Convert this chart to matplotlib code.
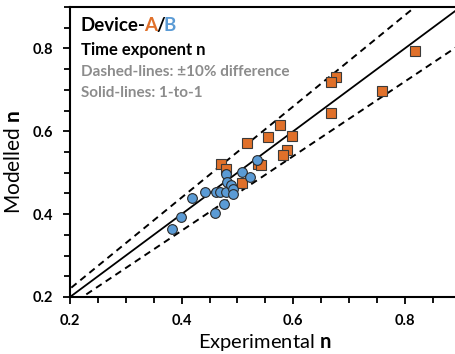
import matplotlib
matplotlib.use("Agg")
import matplotlib.pyplot as plt
from matplotlib.ticker import MultipleLocator

plt.rcParams['font.family'] = ['Lato', 'DejaVu Sans']
plt.rcParams['mathtext.fontset'] = 'custom'
plt.rcParams['mathtext.rm'] = 'Lato'
plt.rcParams['mathtext.bf'] = 'Lato:bold'

# Device A (orange squares): experimental n, modelled n
a_exp = [0.818, 0.676, 0.667, 0.759, 0.667, 0.577, 0.555, 0.598,
         0.518, 0.589, 0.581, 0.470, 0.480, 0.537, 0.543, 0.509]
a_mod = [0.793, 0.731, 0.720, 0.697, 0.644, 0.615, 0.587, 0.589,
         0.571, 0.554, 0.543, 0.521, 0.508, 0.521, 0.519, 0.475]

# Device B (blue circles)
b_exp = [0.382, 0.399, 0.419, 0.442, 0.459, 0.462, 0.469, 0.476, 0.479,
         0.479, 0.482, 0.489, 0.492, 0.492, 0.509, 0.523, 0.536]
b_mod = [0.365, 0.392, 0.440, 0.454, 0.403, 0.454, 0.454, 0.425, 0.453,
         0.496, 0.478, 0.471, 0.461, 0.449, 0.501, 0.490, 0.531]

orange = '#E0702A'
blue = '#5B9BD5'

fig = plt.figure(figsize=(4.56, 3.54), dpi=100)
ax = fig.add_axes([70 / 456, 57 / 354, 390.6 / 456, 290 / 354])

# reference lines: +/-10% and 1-to-1
line_x = [0.0, 1.0]
ax.plot(line_x, [v * 1.1 for v in line_x], color='black', lw=1.4, ls=(0, (3.5, 2.5)), zorder=1)
ax.plot(line_x, [v * 0.9 for v in line_x], color='black', lw=1.4, ls=(0, (3.5, 2.5)), zorder=1)
ax.plot(line_x, line_x, color='black', lw=1.3, zorder=1)

ax.plot(a_exp, a_mod, 's', ms=7, mfc=orange, mec='#3a3a3a', mew=0.8, zorder=3)
ax.plot(b_exp, b_mod, 'o', ms=7, mfc=blue, mec='#2a2a2a', mew=0.8, zorder=4)

ax.set_xlim(0.2, 0.9)
ax.set_ylim(0.2, 0.9)
ax.set_xticks([0.2, 0.4, 0.6, 0.8])
ax.set_yticks([0.2, 0.4, 0.6, 0.8])
ax.xaxis.set_minor_locator(MultipleLocator(0.05))
ax.yaxis.set_minor_locator(MultipleLocator(0.05))
ax.tick_params(which='major', direction='out', length=5, width=1.3, labelsize=10.5)
ax.tick_params(axis='x', which='major', pad=7)
ax.tick_params(axis='y', which='major', pad=7)
ax.tick_params(which='minor', direction='out', length=4, width=1.3)
for lab in ax.get_xticklabels() + ax.get_yticklabels():
    lab.set_fontweight('bold')
for s in ax.spines.values():
    s.set_linewidth(1.5)

fig.text(265 / 456, 6 / 354, r'Experimental $\mathbf{n}$', ha='center', va='baseline', fontsize=14.5)
fig.text(14 / 456, 1 - 162 / 354, r'Modelled $\mathbf{n}$', ha='center', va='center',
         rotation=90, fontsize=15)

# annotation block
fig.canvas.draw()
r = fig.canvas.get_renderer()
x0 = 81 / 456
y0 = 1 - 31 / 354
parts = [('Device-', 'black'), ('A', orange), ('/', 'black'), ('B', blue)]
x = x0
for txt, col in parts:
    t = fig.text(x, y0, txt, color=col, fontsize=13.5, fontweight='bold', va='baseline')
    bb = t.get_window_extent(renderer=r)
    x += (bb.width - 1.5) / fig.bbox.width

fig.text(x0, 1 - 55 / 354, 'Time exponent n', fontsize=12, fontweight='bold', va='baseline')
fig.text(x0, 1 - 76 / 354, 'Dashed-lines: \u00b110% difference', fontsize=11,
         fontweight='bold', color='#8c8c8c', va='baseline')
fig.text(x0, 1 - 97 / 354, 'Solid-lines: 1-to-1', fontsize=11,
         fontweight='bold', color='#8c8c8c', va='baseline')

fig.savefig('out.png', dpi=100)
